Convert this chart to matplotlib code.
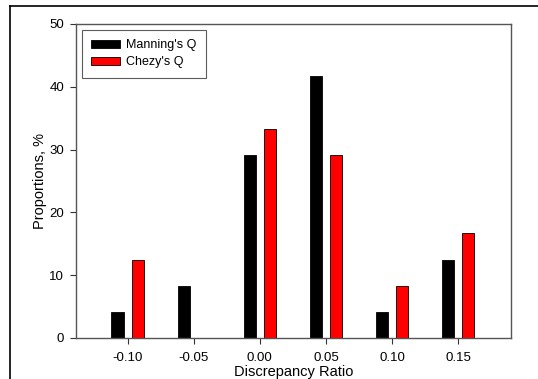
import matplotlib
matplotlib.use("Agg")
import matplotlib.pyplot as plt
import numpy as np
from matplotlib.lines import Line2D

plt.rcParams['font.family'] = ['Liberation Sans', 'DejaVu Sans']

ratios = [-0.10, -0.05, 0.00, 0.05, 0.10, 0.15]
manning = [4.17, 8.33, 29.17, 41.67, 4.17, 12.5]
chezy = [12.5, 0.0, 33.33, 29.17, 8.33, 16.67]
tick_labels = ["-0.10", "-0.05", "0.00", "0.05", "0.10", "0.15"]

W, H = 538, 379
fig = plt.figure(figsize=(W / 100, H / 100), dpi=100)
ax = fig.add_axes([76 / W, 1 - 338 / H, (511 - 76) / W, (338 - 24) / H])

x = np.array(ratios)
off, bw = 0.0076, 0.0092
ax.bar(x - off, manning, width=bw, color='black', edgecolor='black', linewidth=0.6,
       label="Manning's Q")
ax.bar(x + off, chezy, width=bw, color='#ff0000', edgecolor='black', linewidth=0.6,
       label="Chezy's Q")

ax.set_xlim(-0.139, 0.19)
ax.set_ylim(0, 50)
ax.set_xticks(ratios)
ax.set_xticklabels(tick_labels)
ax.set_yticks([0, 10, 20, 30, 40, 50])
ax.tick_params(direction='out', length=4, width=0.8, labelsize=9.5, colors='#333333',
               labelcolor='black')
ax.tick_params(axis='x', pad=6)
ax.tick_params(axis='y', pad=4.5)
for s in ax.spines.values():
    s.set_color('#555555')
    s.set_linewidth(1.0)

ax.set_xlabel("Discrepancy Ratio", fontsize=10.5, labelpad=1)
ax.set_ylabel("Proportions, %", fontsize=10.5, labelpad=1.5)

leg = ax.legend(loc='upper left', bbox_to_anchor=(0.0138, 0.981), borderaxespad=0,
                fontsize=9, frameon=True, fancybox=False, edgecolor='#333333',
                handlelength=2.25, handleheight=0.72, borderpad=0.75,
                labelspacing=0.4, handletextpad=0.5)
leg.get_frame().set_linewidth(0.8)

# page border lines along the top and left
fig.add_artist(Line2D([10 / W, 1], [1 - 6 / H, 1 - 6 / H], color='black', lw=1.2,
                      transform=fig.transFigure))
fig.add_artist(Line2D([10 / W, 10 / W], [0, 1 - 6 / H], color='black', lw=1.2,
                      transform=fig.transFigure))

fig.savefig("out.png", dpi=100)
